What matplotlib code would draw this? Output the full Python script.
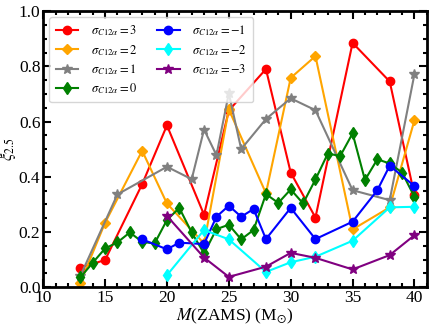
#======================================================================
#   IMPORTS:
#======================================================================

import matplotlib
matplotlib.use('Agg')
from matplotlib import pyplot as plt
from matplotlib.ticker import MultipleLocator


#======================================================================
#   DATA:
#======================================================================

x_p3 = [13, 15, 18, 20, 23, 25, 28, 30, 32, 35, 38, 40]
y_p3 = [0.071, 0.098, 0.373, 0.586, 0.262, 0.640, 0.790, 0.415, 0.252, 0.885, 0.745, 0.333]

x_p2 = [13, 15, 18, 20, 23, 25, 28, 30, 32, 35, 38, 40]
y_p2 = [0.015, 0.233, 0.494, 0.303, 0.158, 0.644, 0.340, 0.758, 0.837, 0.209, 0.289, 0.605]

x_p1 = [13, 16, 20, 22, 23, 24, 25, 26, 28, 30, 32, 35, 38, 40]
y_p1 = [0.040, 0.336, 0.436, 0.391, 0.571, 0.478, 0.702, 0.500, 0.609, 0.684, 0.641, 0.351, 0.315, 0.772]

x_0 = list(range(13, 41))
y_0 = [0.035, 0.088, 0.140, 0.162, 0.198, 0.164, 0.158, 0.243, 0.287, 0.198,
       0.122, 0.210, 0.226, 0.173, 0.207, 0.337, 0.305, 0.354, 0.303, 0.390,
       0.484, 0.475, 0.557, 0.388, 0.463, 0.448, 0.415, 0.327]

x_m1 = [18, 20, 21, 23, 24, 25, 26, 27, 28, 30, 32, 35, 37, 38, 40]
y_m1 = [0.173, 0.137, 0.161, 0.156, 0.255, 0.295, 0.255, 0.283, 0.174, 0.287, 0.174, 0.237, 0.351, 0.440, 0.366]

x_m2 = [20, 23, 25, 28, 30, 32, 35, 38, 40]
y_m2 = [0.043, 0.207, 0.173, 0.055, 0.090, 0.110, 0.168, 0.289, 0.291]

x_m3 = [20, 23, 25, 28, 30, 32, 35, 38, 40]
y_m3 = [0.258, 0.107, 0.037, 0.074, 0.124, 0.106, 0.064, 0.116, 0.188]


#======================================================================
#   MAIN:
#======================================================================

if (__name__ == '__main__'):

    plt.rcParams['font.family'] = ['Liberation Serif', 'DejaVu Serif']
    plt.rcParams['mathtext.fontset'] = 'stix'

    fig = plt.figure(figsize=(4.36, 3.27), dpi=100)
    ax = fig.add_axes([0.099, 0.122, 0.88, 0.844])

    kw = dict(lw=1.5, ms=6)
    ax.plot(x_p3, y_p3, color='red', marker='o', label=r'$\sigma_{C12\alpha}=3$', **kw)
    ax.plot(x_p2, y_p2, color='orange', marker='D', label=r'$\sigma_{C12\alpha}=2$', lw=1.5, ms=5)
    ax.plot(x_p1, y_p1, color='gray', marker='*', label=r'$\sigma_{C12\alpha}=1$', lw=1.5, ms=7)
    ax.plot(x_0, y_0, color='green', marker='d', label=r'$\sigma_{C12\alpha}=0$', **kw)
    ax.plot(x_m1, y_m1, color='blue', marker='o', label=r'$\sigma_{C12\alpha}=-1$', **kw)
    ax.plot(x_m2, y_m2, color='cyan', marker='d', label=r'$\sigma_{C12\alpha}=-2$', **kw)
    ax.plot(x_m3, y_m3, color='purple', marker='*', label=r'$\sigma_{C12\alpha}=-3$', lw=1.5, ms=7)

    ax.set_xlim(10, 41)
    ax.set_ylim(0, 1.0)
    ax.xaxis.set_major_locator(MultipleLocator(5))
    ax.xaxis.set_minor_locator(MultipleLocator(1))
    ax.yaxis.set_major_locator(MultipleLocator(0.2))
    ax.yaxis.set_minor_locator(MultipleLocator(0.05))
    ax.tick_params(which='both', direction='in', top=True, right=True, width=1.5)
    ax.tick_params(which='major', length=6, labelsize=12.5, pad=2)
    ax.tick_params(which='minor', length=3)
    for sp in ax.spines.values():
        sp.set_linewidth(2)

    ax.set_xlabel(r'$M$(ZAMS) (M$_{\odot}$)', fontsize=12.5, labelpad=1)
    ax.set_ylabel(r'$\xi_{2.5}$', fontsize=12, labelpad=0.5)

    ax.legend(loc='upper left', ncol=2, fontsize=9, handlelength=1.8,
              handletextpad=1.0, columnspacing=1.6, labelspacing=0.35,
              borderpad=0.5, borderaxespad=0.5)

    fig.savefig('out.png', dpi=100)
